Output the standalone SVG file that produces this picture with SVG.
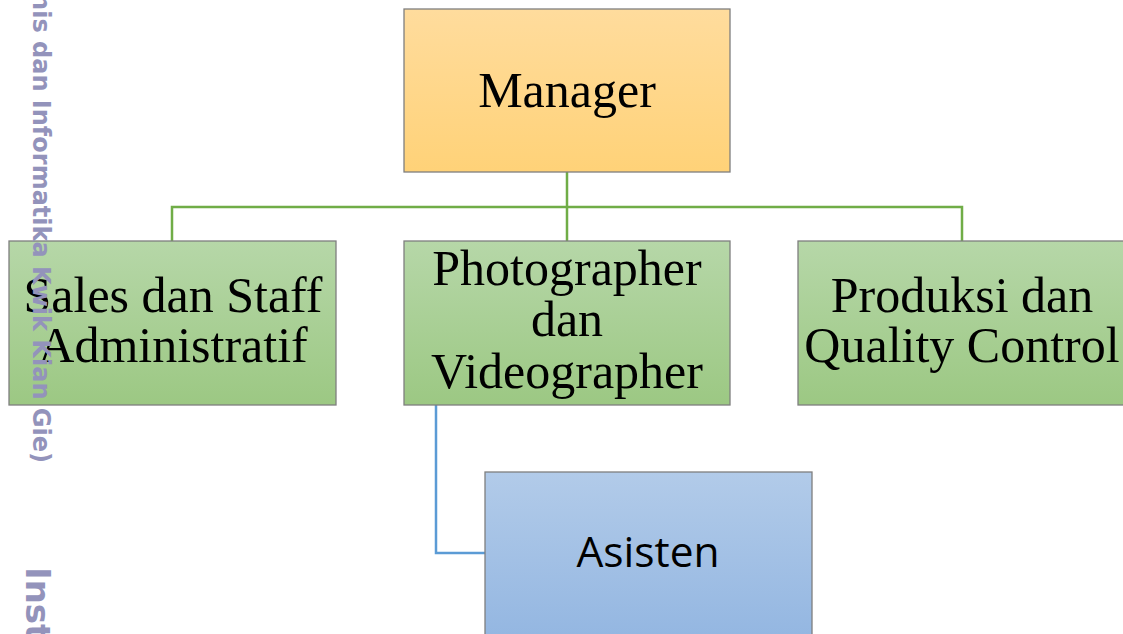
<svg xmlns="http://www.w3.org/2000/svg" width="1123" height="634" viewBox="0 0 1123 634">
<defs>
<linearGradient id="gOrange" x1="0" y1="0" x2="0" y2="1"><stop offset="0" stop-color="#ffdc9d"/><stop offset="1" stop-color="#ffd278"/></linearGradient>
<linearGradient id="gGreen" x1="0" y1="0" x2="0" y2="1"><stop offset="0" stop-color="#b6d7a8"/><stop offset="1" stop-color="#9cc883"/></linearGradient>
<linearGradient id="gBlue" x1="0" y1="0" x2="0" y2="1"><stop offset="0" stop-color="#b2cbe9"/><stop offset="1" stop-color="#93b6e1"/></linearGradient>
</defs>
<style>
.box{stroke:#7f7f7f;stroke-width:1.3}
.t{font-family:"Liberation Serif",serif;font-size:50px;fill:#000;text-anchor:middle}
.s{font-family:"Open Sans","Liberation Sans",sans-serif;font-size:42.5px;fill:#000;text-anchor:middle}
.gl{stroke:#70ad47;stroke-width:2.5;fill:none}
.bl{stroke:#5b9bd5;stroke-width:2.5;fill:none}
.wm{font-family:"DejaVu Sans",sans-serif;font-weight:bold;fill:#9393bb}
</style>
<g id="connectors">
<path class="gl" d="M567 172V241M172 241V207H962V241"/>
<path class="bl" d="M436 405V553H485"/>
</g>
<g id="manager">
<rect class="box" x="404" y="9" width="326" height="163" fill="url(#gOrange)"/>
<text class="t" x="567" y="107">Manager</text>
</g>
<g id="sales">
<rect class="box" x="9" y="241" width="327" height="164" fill="url(#gGreen)"/>
<text class="t" x="173" y="312">Sales dan Staff</text>
<text class="t" x="173" y="362">Administratif</text>
</g>
<g id="photographer">
<rect class="box" x="404" y="241" width="326" height="164" fill="url(#gGreen)"/>
<text class="t" x="567" y="285">Photographer</text>
<text class="t" x="567" y="336">dan</text>
<text class="t" x="567" y="388">Videographer</text>
</g>
<g id="produksi">
<rect class="box" x="798" y="241" width="327" height="164" fill="url(#gGreen)"/>
<text class="t" x="962" y="312">Produksi dan</text>
<text class="t" x="962" y="362">Quality Control</text>
</g>
<g id="asisten">
<rect class="box" x="485" y="472" width="327" height="170" fill="url(#gBlue)"/>
<text class="s" x="648" y="567">Asisten</text>
</g>
<g id="watermark">
<text class="wm" font-size="24" transform="translate(33 463) rotate(90)" text-anchor="end">(Institut Bisnis dan Informatika Kwik Kian Gie)</text>
<text class="wm" font-size="34" transform="translate(26 567) rotate(90)">Institut Bisnis</text>
</g>
</svg>
